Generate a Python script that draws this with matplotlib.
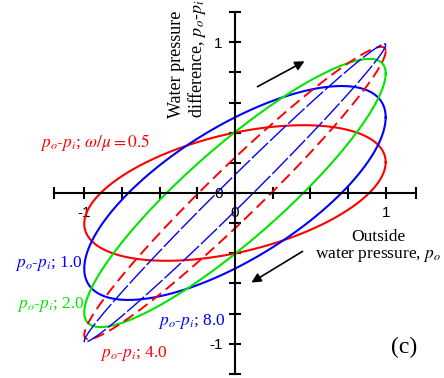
import numpy as np
import matplotlib
matplotlib.use("Agg")
import matplotlib.pyplot as plt

plt.rcParams["font.family"] = "Liberation Serif"
plt.rcParams["mathtext.fontset"] = "stix"

# loops of p_o-p_i against p_o, one per omega/mu
ratios = ["0.5", "1.0", "2.0", "4.0", "8.0"]
amp = [0.45, 0.71, 0.89, 0.97, 0.99]        # peak of p_o-p_i
lead_deg = [63, 45, 27, 14, 7]             # phase lead
colors = ["#ff0000", "#0000ff", "#00e600", "#ff0000", "#0000ff"]
styles = ["solid", "solid", "solid", (0, (6, 3)), (0, (16, 2))]
widths = [1.5, 1.5, 1.5, 1.4, 1.0]

xticks = [-1.2, -1, -0.75, -0.5, -0.25, 0, 0.25, 0.5, 0.75, 1, 1.2]
yticks = [-1.2, -1, -0.8, -0.6, -0.4, -0.2, 0, 0.2, 0.4, 0.6, 0.8, 1, 1.2]

fig = plt.figure(figsize=(4.44, 3.78), dpi=100)
ax = fig.add_axes([0, 0, 1, 1])

t = np.linspace(0, 2 * np.pi, 600)
for a, ph, c, ls, lw in zip(amp, lead_deg, colors, styles, widths):
    ax.plot(np.cos(t), a * np.cos(t + np.radians(ph)), color=c, ls=ls, lw=lw)

ax.set_xlim(-1.559, 1.387)
ax.set_ylim(-1.228, 1.281)

for s in ["top", "right"]:
    ax.spines[s].set_visible(False)
ax.spines["left"].set_position("zero")
ax.spines["bottom"].set_position("zero")
ax.spines["left"].set_bounds(-1.2, 1.2)
ax.spines["bottom"].set_bounds(-1.2, 1.2)
ax.spines["left"].set_linewidth(1.5)
ax.spines["bottom"].set_linewidth(1.5)

ax.set_xticks(xticks)
ax.set_xticklabels(["-1" if v == -1 else "0" if v == 0 else "1" if v == 1 else "" for v in xticks])
ax.set_yticks(yticks)
ax.set_yticklabels(["-1" if v == -1 else "0" if v == 0 else "1" if v == 1 else "" for v in yticks])
ax.tick_params(direction="inout", length=9, width=1.5, labelsize=11)
ax.tick_params(axis="x", pad=5)
ax.tick_params(axis="y", pad=4.5)
for lab in ax.get_xticklabels() + ax.get_yticklabels():
    lab.set_fontfamily("Liberation Sans")

fs = 12.5
ax.text(-1.294, 0.305, r"$p_o$-$p_i$; $\omega/\mu=0.5$", color="#ff0000", fontsize=fs)
ax.text(-1.460, -0.491, r"$p_o$-$p_i$; 1.0", color="#0000ff", fontsize=fs)
ax.text(-1.447, -0.763, r"$p_o$-$p_i$; 2.0", color="#00e600", fontsize=fs)
ax.text(-0.511, -0.876, r"$p_o$-$p_i$; 8.0", color="#0000ff", fontsize=fs)
ax.text(-0.896, -1.088, r"$p_o$-$p_i$; 4.0", color="#ff0000", fontsize=fs)
ax.text(1.121, -1.062, "(c)", fontsize=17, ha="center")

ax.text(-0.312, 0.495, "Water pressure\ndifference, $p_o$-$p_i$", rotation=90,
        ha="center", va="bottom", multialignment="left", fontsize=13, linespacing=1.05)
ax.text(0.949, -0.239, "Outside\nwater pressure, $p_o$", ha="center", va="top",
        fontsize=fs, linespacing=1.1)

arrow = dict(arrowstyle="-|>", color="black", lw=1.2, mutation_scale=14)
ax.annotate("", xy=(0.478, 0.883), xytext=(0.133, 0.697), arrowprops=arrow)
ax.annotate("", xy=(0.093, -0.604), xytext=(0.464, -0.378), arrowprops=arrow)

plt.savefig("out.png", dpi=100)
